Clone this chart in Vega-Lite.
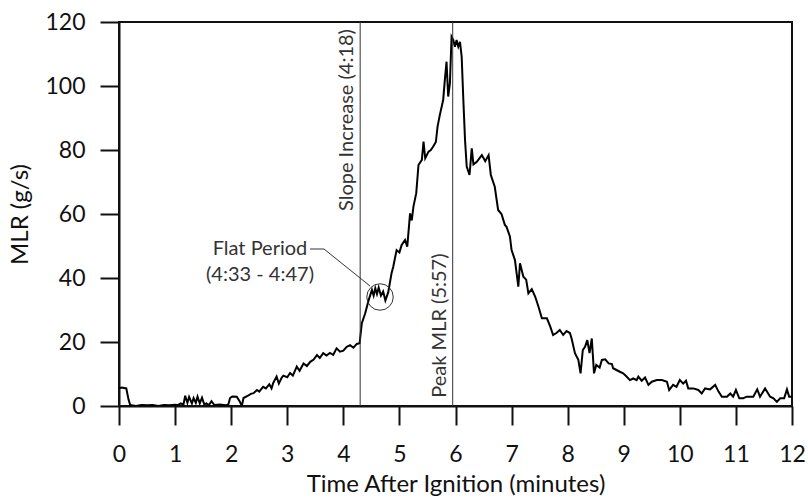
{
  "$schema": "https://vega.github.io/schema/vega-lite/v6.json",
  "width": 673,
  "height": 384,
  "autosize": {"type": "none"},
  "padding": {"left": 119, "top": 22, "right": 16, "bottom": 96},
  "background": "white",
  "config": {
    "font": "Lato",
    "view": {"stroke": "#111", "strokeWidth": 2},
    "axis": {
      "domainColor": "#111", "domainWidth": 2, "tickColor": "#111", "tickWidth": 2,
      "labelFont": "Lato", "labelFontSize": 23, "labelColor": "#111",
      "titleFont": "Lato", "titleFontSize": 24, "titleFontWeight": "normal", "titleColor": "#111",
      "grid": false
    }
  },
  "datasets": {
    "mlr": [
      {"t":0,"v":5.5},{"t":0.05,"v":5.8},{"t":0.13,"v":5.5},{"t":0.17,"v":2},{"t":0.2,"v":0.3},{"t":0.3,"v":0},{"t":0.4,"v":0.3},{"t":0.5,"v":0.2},{"t":0.6,"v":0.3},{"t":0.7,"v":0},{"t":0.8,"v":0.3},{"t":0.9,"v":0.2},{"t":1.0,"v":0.4},{"t":1.05,"v":0.3},{"t":1.1,"v":0.8},{"t":1.15,"v":0.5},{"t":1.18,"v":3.2},{"t":1.22,"v":1.0},{"t":1.25,"v":2.8},{"t":1.3,"v":0.8},{"t":1.33,"v":2.5},{"t":1.37,"v":1.0},{"t":1.4,"v":2.9},{"t":1.44,"v":0.8},{"t":1.48,"v":2.6},{"t":1.52,"v":0.5},{"t":1.56,"v":0.8},{"t":1.6,"v":0.2},{"t":1.65,"v":1.5},{"t":1.7,"v":0.3},{"t":1.8,"v":0.5},{"t":1.9,"v":0.2},{"t":1.95,"v":0.5},{"t":1.98,"v":2.5},{"t":2.02,"v":3.0},{"t":2.1,"v":2.9},{"t":2.15,"v":1.5},{"t":2.19,"v":0},{"t":2.22,"v":2.5},{"t":2.3,"v":3.2},{"t":2.35,"v":3.8},{"t":2.4,"v":4.0},{"t":2.46,"v":5.0},{"t":2.5,"v":4.5},{"t":2.57,"v":6.0},{"t":2.62,"v":5.5},{"t":2.68,"v":6.8},{"t":2.72,"v":5.5},{"t":2.75,"v":7.2},{"t":2.81,"v":9.2},{"t":2.85,"v":7.0},{"t":2.9,"v":8.8},{"t":2.93,"v":9.5},{"t":3.0,"v":9.0},{"t":3.05,"v":10.3},{"t":3.1,"v":9.5},{"t":3.17,"v":12.3},{"t":3.22,"v":11.0},{"t":3.29,"v":13.3},{"t":3.35,"v":12.5},{"t":3.41,"v":13.8},{"t":3.47,"v":14.5},{"t":3.53,"v":15.9},{"t":3.58,"v":15.0},{"t":3.64,"v":16.5},{"t":3.7,"v":15.8},{"t":3.76,"v":16.6},{"t":3.82,"v":16.0},{"t":3.88,"v":18.0},{"t":3.94,"v":17.0},{"t":4.0,"v":17.3},{"t":4.06,"v":18.5},{"t":4.12,"v":19.0},{"t":4.18,"v":18.2},{"t":4.24,"v":19.4},{"t":4.29,"v":19.6},{"t":4.33,"v":25.9},{"t":4.39,"v":29},{"t":4.45,"v":33},{"t":4.51,"v":36.3},{"t":4.54,"v":34.5},{"t":4.57,"v":36.8},{"t":4.6,"v":35},{"t":4.63,"v":37},{"t":4.67,"v":34.5},{"t":4.71,"v":35.8},{"t":4.75,"v":33},{"t":4.8,"v":35.5},{"t":4.86,"v":41.5},{"t":4.89,"v":43.5},{"t":4.95,"v":48.75},{"t":5.0,"v":48},{"t":5.04,"v":50.3},{"t":5.1,"v":51.9},{"t":5.14,"v":49.8},{"t":5.19,"v":60.2},{"t":5.22,"v":58},{"t":5.25,"v":62.3},{"t":5.3,"v":66.5},{"t":5.34,"v":75.3},{"t":5.4,"v":76.9},{"t":5.43,"v":82.6},{"t":5.46,"v":77.4},{"t":5.52,"v":79.5},{"t":5.56,"v":80},{"t":5.6,"v":81},{"t":5.65,"v":82.5},{"t":5.68,"v":87.3},{"t":5.72,"v":90.9},{"t":5.78,"v":95.6},{"t":5.81,"v":101.9},{"t":5.84,"v":107.6},{"t":5.87,"v":96.7},{"t":5.9,"v":100.8},{"t":5.93,"v":115.4},{"t":5.96,"v":114.4},{"t":5.99,"v":112.3},{"t":6.02,"v":114.4},{"t":6.05,"v":112.3},{"t":6.08,"v":113.8},{"t":6.11,"v":109.2},{"t":6.14,"v":95.6},{"t":6.17,"v":83.1},{"t":6.2,"v":74.8},{"t":6.25,"v":72.2},{"t":6.29,"v":80.5},{"t":6.32,"v":75.5},{"t":6.38,"v":76.3},{"t":6.47,"v":78.4},{"t":6.53,"v":76.5},{"t":6.59,"v":78.4},{"t":6.63,"v":72.2},{"t":6.7,"v":68.5},{"t":6.76,"v":61.25},{"t":6.82,"v":60},{"t":6.88,"v":56.6},{"t":6.91,"v":56},{"t":6.97,"v":53},{"t":7.0,"v":48.75},{"t":7.06,"v":45.6},{"t":7.12,"v":37.3},{"t":7.15,"v":44.6},{"t":7.21,"v":40.4},{"t":7.26,"v":39.5},{"t":7.3,"v":35.2},{"t":7.36,"v":36.5},{"t":7.42,"v":34.2},{"t":7.48,"v":31},{"t":7.54,"v":27.4},{"t":7.63,"v":27.4},{"t":7.69,"v":24.8},{"t":7.74,"v":22.2},{"t":7.8,"v":22.8},{"t":7.86,"v":23.75},{"t":7.92,"v":22.2},{"t":7.98,"v":23.4},{"t":8.04,"v":22.8},{"t":8.07,"v":21.1},{"t":8.13,"v":16.5},{"t":8.19,"v":14.4},{"t":8.23,"v":10.2},{"t":8.27,"v":17.5},{"t":8.31,"v":18.5},{"t":8.35,"v":20.6},{"t":8.39,"v":16.5},{"t":8.43,"v":21.1},{"t":8.47,"v":10.2},{"t":8.51,"v":12.8},{"t":8.57,"v":12.0},{"t":8.61,"v":14.4},{"t":8.67,"v":14.6},{"t":8.73,"v":13.3},{"t":8.79,"v":13.1},{"t":8.81,"v":11.8},{"t":8.87,"v":11.25},{"t":8.93,"v":10.7},{"t":8.99,"v":10.2},{"t":9.05,"v":9.2},{"t":9.11,"v":8.1},{"t":9.17,"v":8.6},{"t":9.23,"v":8.1},{"t":9.26,"v":9.2},{"t":9.32,"v":7.9},{"t":9.38,"v":8.9},{"t":9.44,"v":6.6},{"t":9.5,"v":7.6},{"t":9.59,"v":8.1},{"t":9.68,"v":8.1},{"t":9.77,"v":7.6},{"t":9.81,"v":5.0},{"t":9.88,"v":6.6},{"t":9.94,"v":6.0},{"t":10.0,"v":8.1},{"t":10.06,"v":7.0},{"t":10.11,"v":7.9},{"t":10.15,"v":5.5},{"t":10.24,"v":5.5},{"t":10.33,"v":5.0},{"t":10.39,"v":3.9},{"t":10.45,"v":5.5},{"t":10.54,"v":5.2},{"t":10.63,"v":6.6},{"t":10.69,"v":4.5},{"t":10.75,"v":2.9},{"t":10.84,"v":2.9},{"t":10.9,"v":3.9},{"t":10.95,"v":2.9},{"t":11.0,"v":5.0},{"t":11.06,"v":2.4},{"t":11.13,"v":2.4},{"t":11.19,"v":2.9},{"t":11.25,"v":2.9},{"t":11.31,"v":2.9},{"t":11.38,"v":5.2},{"t":11.43,"v":2.9},{"t":11.52,"v":5.5},{"t":11.61,"v":2.9},{"t":11.67,"v":2.4},{"t":11.73,"v":1.3},{"t":11.79,"v":2.4},{"t":11.86,"v":2.4},{"t":11.91,"v":5.2},{"t":11.95,"v":2.9},{"t":12.0,"v":2.9}
    ],
    "events": [
      {"t": 4.3},
      {"t": 5.95}
    ],
    "slope": [{"t": 4.3, "v": 117.8, "label": "Slope Increase (4:18)"}],
    "peak": [{"t": 5.95, "v": 2.6, "label": "Peak MLR (5:57)"}],
    "leader": [
      {"t": 3.406, "v": 49.06, "o": 1},
      {"t": 3.655, "v": 49.06, "o": 2},
      {"t": 4.476, "v": 37.5, "o": 3}
    ],
    "circle": [{"t": 4.654, "v": 34.06}],
    "flat": [
      {"t": 2.514, "v": 49.1, "label": "Flat Period"},
      {"t": 2.514, "v": 40.9, "label": "(4:33 - 4:47)"}
    ]
  },
  "layer": [
    {
      "data": {"name": "mlr"},
      "mark": {"type": "line", "color": "#000", "strokeWidth": 2, "clip": true},
      "encoding": {
        "x": {
          "field": "t", "type": "quantitative",
          "scale": {"domain": [0, 12], "nice": false, "zero": false},
          "axis": {
            "title": "Time After Ignition (minutes)",
            "values": [0,0.5,1,1.5,2,2.5,3,3.5,4,4.5,5,5.5,6,6.5,7,7.5,8,8.5,9,9.5,10,10.5,11,11.5,12],
            "format": "d",
            "labelExpr": "datum.value % 1 === 0 ? datum.label : ''",
            "tickSize": {"condition": {"test": "datum.value % 1 === 0", "value": 19}, "value": 10},
            "labelPadding": 18,
            "titlePadding": 6,
            "labelFlush": false,
            "labelOverlap": false
          }
        },
        "y": {
          "field": "v", "type": "quantitative",
          "scale": {"domain": [0, 120], "nice": false},
          "axis": {
            "title": "MLR (g/s)",
            "values": [0,10,20,30,40,50,60,70,80,90,100,110,120],
            "labelExpr": "datum.value % 20 === 0 ? datum.label : ''",
            "tickSize": {"condition": {"test": "datum.value % 20 === 0", "value": 19}, "value": 9},
            "labelPadding": 15,
            "titlePadding": 12,
            "labelFlush": false,
            "labelOverlap": false
          }
        }
      }
    },
    {
      "data": {"name": "events"},
      "mark": {"type": "rule", "color": "#333", "strokeWidth": 1},
      "encoding": {"x": {"field": "t", "type": "quantitative"}}
    },
    {
      "data": {"name": "slope"},
      "mark": {"type": "text", "angle": 270, "align": "right", "baseline": "bottom", "fontSize": 20, "color": "#333", "dy": -3},
      "encoding": {
        "x": {"field": "t", "type": "quantitative"},
        "y": {"field": "v", "type": "quantitative"},
        "text": {"field": "label"}
      }
    },
    {
      "data": {"name": "peak"},
      "mark": {"type": "text", "angle": 270, "align": "left", "baseline": "bottom", "fontSize": 20, "color": "#333", "dy": -3},
      "encoding": {
        "x": {"field": "t", "type": "quantitative"},
        "y": {"field": "v", "type": "quantitative"},
        "text": {"field": "label"}
      }
    },
    {
      "data": {"name": "leader"},
      "mark": {"type": "line", "color": "#333", "strokeWidth": 1},
      "encoding": {
        "x": {"field": "t", "type": "quantitative"},
        "y": {"field": "v", "type": "quantitative"},
        "order": {"field": "o"}
      }
    },
    {
      "data": {"name": "circle"},
      "mark": {"type": "point", "shape": "circle", "size": 700, "color": "#333", "strokeWidth": 1, "filled": false, "opacity": 1},
      "encoding": {
        "x": {"field": "t", "type": "quantitative"},
        "y": {"field": "v", "type": "quantitative"}
      }
    },
    {
      "data": {"name": "flat"},
      "mark": {"type": "text", "align": "center", "baseline": "middle", "fontSize": 20, "color": "#333"},
      "encoding": {
        "x": {"field": "t", "type": "quantitative"},
        "y": {"field": "v", "type": "quantitative"},
        "text": {"field": "label"}
      }
    }
  ]
}
